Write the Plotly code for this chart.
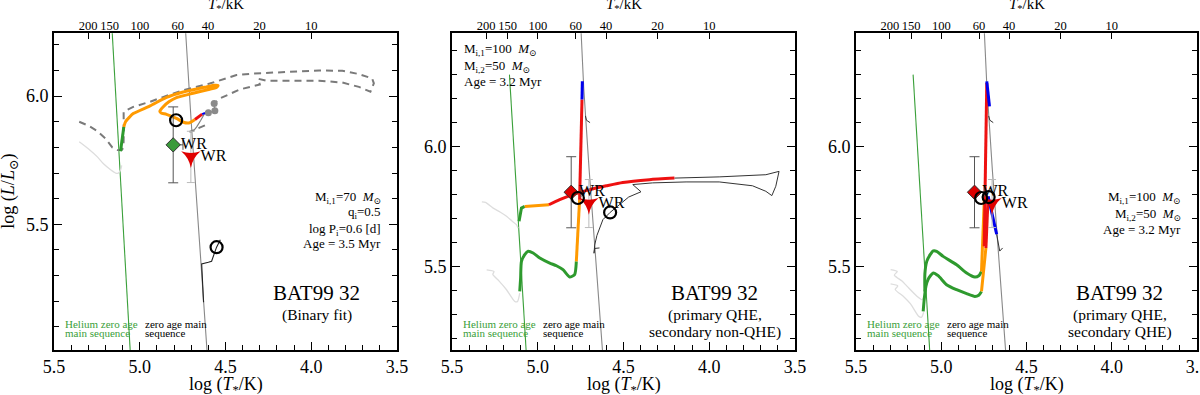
import numpy as np
import plotly.graph_objects as go

# ---- axes / common data ----
T_top_kK = [200, 150, 100, 60, 40, 20, 10]

he_zams_T = [5.055, 5.165]
he_zams_L = [5.0, 6.30]
zams_T = [4.607, 4.623, 4.661, 4.70, 4.732, 4.748, 4.752]
zams_L = [5.0, 5.153, 5.5, 5.9, 6.245, 6.472, 6.55]

# observed position of BAT99 32 (diamond) and WR model (tri)
obs_T, obs_L = [4.805], [5.81]
obs_errL, obs_errT_minus = [0.148], [0.057]
wr_T, wr_L = [4.702], [5.763]
wr_errL = [0.1]

# ---- panel 1: binary fit ----
p1_lgray_T = [5.353, 5.30, 5.247, 5.21, 5.17, 5.14, 5.125, 5.112, 5.105]
p1_lgray_L = [5.822, 5.795, 5.763, 5.735, 5.713, 5.70, 5.70, 5.712, 5.73]
p1_dash_T = [5.353, 5.30, 5.25, 5.20, 5.16, 5.13, 5.105, 5.095, 5.093, 5.096, 5.094, 5.038, 4.94,
             4.85, 4.747, 4.592, 4.436, 4.34, 4.147, 3.954, 3.819, 3.722, 3.645, 3.635, 3.655,
             3.722, 3.819, 3.954, 4.147, 4.263, 4.31, 4.30, 4.417, 4.533, 4.566]
p1_dash_L = [5.90, 5.885, 5.865, 5.835, 5.80, 5.79, 5.79, 5.80, 5.86, 5.915, 5.939, 5.958, 5.978,
             6.0, 6.023, 6.049, 6.082, 6.088, 6.095, 6.10, 6.099, 6.086, 6.069, 6.05, 6.017,
             6.036, 6.053, 6.06, 6.06, 6.06, 6.068, 6.045, 6.026, 5.991, 5.971]
p1_green_T = [5.112, 5.106, 5.102, 5.093]
p1_green_L = [5.785, 5.82, 5.84, 5.88]
p1_orange_T = [5.093, 5.083, 5.06, 5.038, 4.94, 4.844, 4.747, 4.65, 4.611, 4.565, 4.543, 4.555,
               4.592, 4.689, 4.786, 4.83, 4.864, 4.883, 4.875, 4.844, 4.786, 4.745, 4.72, 4.707, 4.678]
p1_orange_L = [5.88, 5.90, 5.918, 5.932, 5.962, 5.995, 6.016, 6.031, 6.036, 6.042, 6.041, 6.033,
               6.027, 6.011, 5.994, 5.978, 5.958, 5.941, 5.934, 5.929, 5.913, 5.898, 5.895, 5.897, 5.909]
p1_red_T = [4.678, 4.655, 4.636]
p1_red_L = [5.909, 5.92, 5.93]
p1_blue_T = [4.636, 4.62]
p1_blue_L = [5.93, 5.934]
p1_gray_T = [4.69, 4.668, 4.645, 4.62, 4.60, 4.562, 4.566]
p1_gray_L = [5.862, 5.88, 5.905, 5.934, 5.935, 5.943, 5.971]
p1_dots_T = [4.566, 4.562, 4.60]
p1_dots_L = [5.971, 5.943, 5.935]
p1_dash2_T = [4.62, 4.71]
p1_dash2_L = [5.886, 5.86]
p1_sec_T = [4.628, 4.634, 4.639, 4.60, 4.581, 4.566, 4.552, 4.53]
p1_sec_L = [5.196, 5.27, 5.346, 5.352, 5.356, 5.385, 5.411, 5.44]
p1_circ_T = [4.788, 4.552]
p1_circ_L = [5.906, 5.411]

# ---- panel 2: primary QHE, secondary non-QHE ----
p2_lgray1_T = [5.326, 5.305, 5.26, 5.22, 5.182, 5.15, 5.124, 5.115]
p2_lgray1_L = [5.77, 5.768, 5.744, 5.728, 5.71, 5.69, 5.675, 5.66]
p2_lgray2_T = [5.298, 5.255, 5.262, 5.225, 5.182, 5.134, 5.118, 5.105]
p2_lgray2_L = [5.487, 5.48, 5.468, 5.44, 5.404, 5.355, 5.355, 5.39]
p2_green1_T = [5.105, 5.100, 5.095, 5.076, 5.056, 5.027, 4.988, 4.93, 4.891, 4.853, 4.814, 4.785, 4.775]
p2_green1_L = [5.397, 5.45, 5.522, 5.55, 5.564, 5.557, 5.536, 5.515, 5.504, 5.4875, 5.457, 5.467, 5.522]
p2_orange1_T = [4.775, 4.769, 4.762, 4.756]
p2_orange1_L = [5.522, 5.60, 5.70, 5.779]
p2_red1_T = [4.756, 4.750, 4.742]
p2_red1_L = [5.779, 6.0, 6.196]
p2_blue1_T = [4.742, 4.740]
p2_blue1_L = [6.196, 6.272]
p2_green2_T = [5.109, 5.095, 5.076]
p2_green2_L = [5.689, 5.744, 5.751]
p2_orange2_T = [5.076, 5.0, 4.935]
p2_orange2_L = [5.751, 5.754, 5.758]
p2_red2_T = [4.935, 4.872, 4.795, 4.698, 4.60, 4.504, 4.349, 4.203]
p2_red2_L = [5.758, 5.779, 5.80, 5.821, 5.837, 5.851, 5.8625, 5.869]
p2_thin_T = [4.203, 3.942, 3.67, 3.593, 3.612, 3.635, 3.67, 3.748, 3.942, 4.135, 4.33, 4.446,
             4.398, 4.47, 4.524, 4.578, 4.62, 4.655, 4.668, 4.672, 4.668, 4.64]
p2_thin_L = [5.869, 5.874, 5.883, 5.897, 5.835, 5.796, 5.814, 5.837, 5.853, 5.853, 5.849, 5.842,
             5.812, 5.79, 5.758, 5.726, 5.696, 5.63, 5.59, 5.556, 5.576, 5.578]
p2_hook_T = [4.722, 4.716, 4.695]
p2_hook_L = [6.128, 6.11, 6.10]
p2_circ_T = [4.766, 4.578]
p2_circ_L = [5.786, 5.726]

# ---- panel 3: primary QHE, secondary QHE ----
p3_lgray1_T = [5.297, 5.258, 5.275, 5.23, 5.20, 5.141, 5.112, 5.10]
p3_lgray1_L = [5.4875, 5.48, 5.465, 5.44, 5.418, 5.376, 5.3625, 5.38]
p3_lgray2_T = [5.297, 5.255, 5.27, 5.22, 5.18, 5.132, 5.115, 5.103]
p3_lgray2_L = [5.428, 5.42, 5.405, 5.375, 5.345, 5.293, 5.29, 5.31]
p3_green1_T = [5.096, 5.096, 5.085, 5.065, 5.047, 5.027, 4.989, 4.91, 4.851, 4.803, 4.78, 4.764]
p3_green1_L = [5.397, 5.47, 5.522, 5.55, 5.566, 5.564, 5.543, 5.508, 5.474, 5.457, 5.462, 5.48]
p3_green2_T = [5.106, 5.10, 5.09, 5.076, 5.047, 5.018, 4.969, 4.91, 4.851, 4.803, 4.78, 4.764]
p3_green2_L = [5.314, 5.3625, 5.418, 5.449, 5.474, 5.4625, 5.425, 5.404, 5.3875, 5.376, 5.381, 5.397]
p3_orange1_T = [4.764, 4.758, 4.752, 4.746]
p3_orange1_L = [5.48, 5.60, 5.70, 5.807]
p3_red1_T = [4.748, 4.742, 4.733]
p3_red1_L = [5.585, 5.90, 6.265]
p3_blue1_T = [4.733, 4.717]
p3_blue1_L = [6.272, 6.168]
p3_hook_T = [4.722, 4.715, 4.695]
p3_hook_L = [6.128, 6.11, 6.10]
p3_orange2_T = [4.764, 4.755, 4.745, 4.738]
p3_orange2_L = [5.397, 5.45, 5.53, 5.578]
p3_red2_T = [4.738, 4.73, 4.725]
p3_red2_L = [5.578, 5.71, 5.793]
p3_blue2_T = [4.725, 4.70, 4.675]
p3_blue2_L = [5.793, 5.72, 5.635]
p3_thin_T = [4.675, 4.662, 4.657, 4.64]
p3_thin_L = [5.635, 5.59, 5.565, 5.578]
p3_circ_T = [4.766, 4.722]
p3_circ_L = [5.786, 5.79]

GREEN = "#2e9a2e"
ORANGE = "#ff9a00"
RED = "#ee1111"
BLUE = "#0000ee"
FONT = "'Liberation Serif', 'Times New Roman', 'DejaVu Serif', serif"


def F(size, color="black"):
    return dict(family=FONT, size=size, color=color)


fig = go.Figure()


def ax(i):
    s = "" if i == 1 else str(i)
    return "x" + s, "y" + s


def line(i, T, L, color, width, dash=None, spline=False):
    xa, ya = ax(i)
    fig.add_trace(go.Scatter(
        x=T, y=L, xaxis=xa, yaxis=ya, mode="lines",
        line=dict(color=color, width=width, dash=dash,
                  shape="spline" if spline else "linear", smoothing=0.6),
        hoverinfo="skip", showlegend=False))


def markers(i, T, L, **kw):
    xa, ya = ax(i)
    fig.add_trace(go.Scatter(x=T, y=L, xaxis=xa, yaxis=ya, hoverinfo="skip",
                             showlegend=False, **kw))


# ZAMS lines
for i in (1, 2, 3):
    line(i, he_zams_T, he_zams_L, "#3aa03a", 1.1)
    line(i, zams_T, zams_L, "#888888", 1.1)

# panel 1 tracks
line(1, p1_lgray_T, p1_lgray_L, "#dddddd", 1.3, spline=True)
line(1, p1_dash_T, p1_dash_L, "#7a7a7a", 2, dash="7px,5px")
line(1, p1_dash2_T, p1_dash2_L, "#7a7a7a", 2, dash="7px,5px")
line(1, p1_gray_T, p1_gray_L, "#808080", 1.2)
markers(1, p1_dots_T, p1_dots_L, mode="markers", marker=dict(color="#8a8a8a", size=7))
line(1, p1_green_T, p1_green_L, GREEN, 3)
line(1, p1_orange_T, p1_orange_L, ORANGE, 3, spline=True)
line(1, p1_red_T, p1_red_L, RED, 3)
line(1, p1_blue_T, p1_blue_L, BLUE, 2)
line(1, p1_sec_T, p1_sec_L, "#222222", 1.1)

# panel 2 tracks
line(2, p2_lgray1_T, p2_lgray1_L, "#dddddd", 1.3, spline=True)
line(2, p2_lgray2_T, p2_lgray2_L, "#dddddd", 1.3, spline=True)
line(2, p2_thin_T, p2_thin_L, "#333333", 1.0)
line(2, p2_hook_T, p2_hook_L, "#333333", 1.0)
line(2, p2_green1_T, p2_green1_L, GREEN, 3, spline=True)
line(2, p2_orange1_T, p2_orange1_L, ORANGE, 3)
line(2, p2_red1_T, p2_red1_L, RED, 3)
line(2, p2_blue1_T, p2_blue1_L, BLUE, 3)
line(2, p2_green2_T, p2_green2_L, GREEN, 3)
line(2, p2_orange2_T, p2_orange2_L, ORANGE, 3)
line(2, p2_red2_T, p2_red2_L, RED, 3, spline=True)

# panel 3 tracks
line(3, p3_lgray1_T, p3_lgray1_L, "#dddddd", 1.3, spline=True)
line(3, p3_lgray2_T, p3_lgray2_L, "#dddddd", 1.3, spline=True)
line(3, p3_hook_T, p3_hook_L, "#333333", 1.0)
line(3, p3_thin_T, p3_thin_L, "#333333", 1.0)
line(3, p3_green1_T, p3_green1_L, GREEN, 3, spline=True)
line(3, p3_green2_T, p3_green2_L, GREEN, 3, spline=True)
line(3, p3_orange1_T, p3_orange1_L, ORANGE, 3)
line(3, p3_orange2_T, p3_orange2_L, ORANGE, 3)
line(3, p3_red1_T, p3_red1_L, RED, 3)
line(3, p3_red2_T, p3_red2_L, RED, 3)
line(3, p3_blue1_T, p3_blue1_L, BLUE, 3)
line(3, p3_blue2_T, p3_blue2_L, BLUE, 3)

# observed / WR markers and model circles
circles = {1: (p1_circ_T, p1_circ_L), 2: (p2_circ_T, p2_circ_L), 3: (p3_circ_T, p3_circ_L)}
for i in (1, 2, 3):
    markers(i, wr_T, wr_L, mode="markers+text", text=["WR"], textposition="middle right",
            textfont=F(16),
            marker=dict(symbol="star-triangle-down", size=14, color="#e00000", line=dict(width=0)),
            error_y=dict(type="data", array=wr_errL, color="#bbbbbb", thickness=1, width=4))
    markers(i, obs_T, obs_L, mode="markers+text", text=["WR"], textposition="middle right",
            textfont=F(16),
            marker=dict(symbol="diamond", size=11, color="#3a9a3a" if i == 1 else "#dd0000",
                        line=dict(color="#333333", width=1)),
            error_y=dict(type="data", array=obs_errL, color="#555555", thickness=1, width=5),
            error_x=dict(type="data", symmetric=False, array=[0], arrayminus=obs_errT_minus,
                         color="#555555", thickness=1, width=5))
    cT, cL = circles[i]
    markers(i, cT, cL, mode="markers",
            marker=dict(symbol="circle-open", size=12, color="black", line=dict(width=2.2)))
    # dummy trace for top temperature axis
    fig.add_trace(go.Scatter(x=[4.5], y=[5.5], xaxis="x" + str(i + 3), yaxis=ax(i)[1],
                             mode="markers", marker=dict(opacity=0), hoverinfo="skip",
                             showlegend=False))

# ---- layout ----
xdom = [[54 / 1200, 397 / 1200], [452 / 1200, 795 / 1200], [856 / 1200, 1197 / 1200]]
ydom = [45 / 395, 361.7 / 395]
yranges = [[5.01, 6.245], [5.153, 6.472], [5.153, 6.472]]
top_vals = list(np.log10(np.array(T_top_kK) * 1e3))

lay = dict(width=1200, height=395, margin=dict(l=0, r=0, t=0, b=0),
           paper_bgcolor="white", plot_bgcolor="white",
           font=F(14), showlegend=False)
for i in (1, 2, 3):
    s = "" if i == 1 else str(i)
    lay["xaxis" + s] = dict(
        domain=xdom[i - 1], range=[5.5, 3.5], anchor="y" + s, automargin=False,
        showline=True, linecolor="black", linewidth=1.6, mirror=True,
        ticks="inside", ticklen=8, tickwidth=1.2, tickcolor="black",
        tick0=3.5, dtick=0.5, tickformat=".1f", tickfont=F(18), ticklabeloverflow="allow",
        minor=dict(dtick=0.1, ticks="inside", ticklen=5, tickwidth=1, tickcolor="black"),
        showgrid=False, zeroline=False)
    lay["yaxis" + s] = dict(
        domain=ydom, range=yranges[i - 1], anchor="x" + s, automargin=False,
        showline=True, linecolor="black", linewidth=1.6, mirror="ticks",
        ticks="inside", ticklen=8, tickwidth=1.2, tickcolor="black",
        tick0=5.0, dtick=0.5, tickformat=".1f", tickfont=F(18),
        minor=dict(dtick=0.1, ticks="inside", ticklen=5, tickwidth=1, tickcolor="black"),
        showgrid=False, zeroline=False)
    lay["xaxis" + str(i + 3)] = dict(
        overlaying="x" + s, side="top", anchor="y" + s, range=[5.5, 3.5], automargin=False,
        tickvals=top_vals, ticktext=[str(t) for t in T_top_kK],
        ticks="inside", ticklen=6, tickwidth=1, tickcolor="black",
        tickfont=F(12.5), showline=False, showgrid=False, zeroline=False)

ann = []
info = {
    1: (["M<sub>i,1</sub>=70  <i>M</i><sub>⊙</sub>", "q<sub>i</sub>=0.5",
         "log P<sub>i</sub>=0.6 [d]", "Age = 3.5 Myr"], 0.959, [0.483, 0.433, 0.382, 0.335], "right"),
    2: (["M<sub>i,1</sub>=100  <i>M</i><sub>⊙</sub>", "M<sub>i,2</sub>=50  <i>M</i><sub>⊙</sub>",
         "Age = 3.2 Myr"], 0.028, [0.950, 0.894, 0.849], "left"),
    3: (["M<sub>i,1</sub>=100  <i>M</i><sub>⊙</sub>", "M<sub>i,2</sub>=50  <i>M</i><sub>⊙</sub>",
         "Age = 3.2 Myr"], 0.959, [0.483, 0.429, 0.382], "right"),
}
subtitle = {1: ["(Binary fit)"],
            2: ["(primary QHE,", "secondary non-QHE)"],
            3: ["(primary QHE,", "secondary QHE)"]}
for i in (1, 2, 3):
    xa, ya = ax(i)
    xr, yr = xa + " domain", ya + " domain"
    lines, xx, ys, anchor = info[i]
    for t, yy in zip(lines, ys):
        ann.append(dict(text=t, x=xx, y=yy, xref=xr, yref=yr, xanchor=anchor, yanchor="middle",
                        showarrow=False, font=F(13)))
    xc = 0.766 if i < 3 else 0.774
    ann.append(dict(text="BAT99 32", x=xc, y=0.18, xref=xr, yref=yr, showarrow=False,
                    xanchor="center", yanchor="middle", font=F(21)))
    for k, t in enumerate(subtitle[i]):
        ann.append(dict(text=t, x=xc, y=0.112 - 0.056 * k, xref=xr, yref=yr, showarrow=False,
                        xanchor="center", yanchor="middle", font=F(15.5)))
    ann.append(dict(text="Helium zero age", x=0.027, y=0.081, xref=xr, yref=yr, showarrow=False,
                    xanchor="left", yanchor="middle", font=F(11, "#3aa03a")))
    ann.append(dict(text="main sequence", x=0.027, y=0.053, xref=xr, yref=yr, showarrow=False,
                    xanchor="left", yanchor="middle", font=F(11, "#3aa03a")))
    ann.append(dict(text="zero age main", x=0.26, y=0.081, xref=xr, yref=yr, showarrow=False,
                    xanchor="left", yanchor="middle", font=F(11)))
    ann.append(dict(text="sequence", x=0.26, y=0.053, xref=xr, yref=yr, showarrow=False,
                    xanchor="left", yanchor="middle", font=F(11)))
    ann.append(dict(text="log (<i>T</i><sub>*</sub>/K)", x=0.5, y=(395 - 385) / 395,
                    xref=xr, yref="paper", showarrow=False, xanchor="center", yanchor="middle",
                    font=F(18)))
    ann.append(dict(text="<i>T</i><sub>*</sub>/kK", x=0.5, y=(395 - 5) / 395,
                    xref=xr, yref="paper", showarrow=False, xanchor="center", yanchor="middle",
                    font=F(15)))
ann.append(dict(text="log (<i>L</i>/<i>L</i><sub>⊙</sub>)", x=10 / 1200, y=0.5, xref="paper",
                yref="y domain", textangle=-90, showarrow=False, xanchor="center",
                yanchor="middle", font=F(18)))
lay["annotations"] = ann

fig.update_layout(**lay)
# page body has a default 8px margin; remove it so the figure fills the window exactly
fig.write_html("out.html", config={"displayModeBar": False},
               post_script="document.body.style.margin='0px';")
